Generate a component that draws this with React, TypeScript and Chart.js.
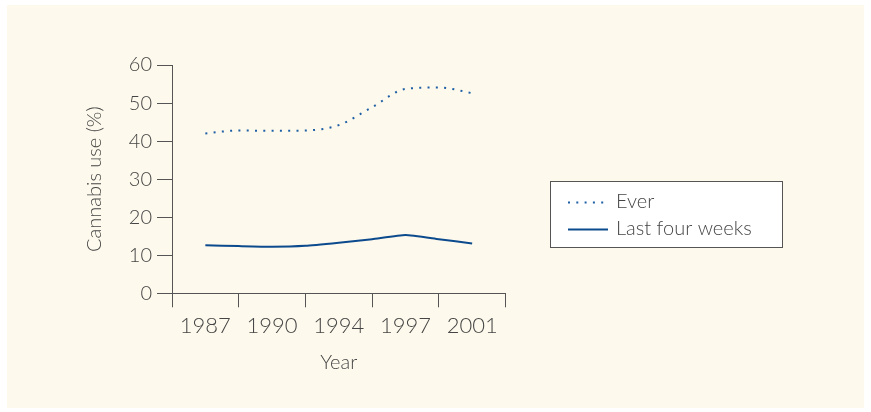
import React, { useEffect, useRef } from "react";
import { Chart, registerables } from "chart.js";

Chart.register(...registerables);

const yearLabels = ["1987", "1990", "1994", "1997", "2001"];
// positions in category units (half steps between labelled years)
const positions = [0, 0.5, 1, 1.5, 2, 2.5, 3, 3.5, 4];
const everValues = [42.0, 42.8, 42.7, 42.8, 44.2, 48.9, 53.7, 54.1, 52.6];
const lastFourWeeksValues = [12.6, 12.4, 12.25, 12.5, 13.3, 14.2, 15.3, 14.2, 13.1];
const seriesNames = ["Ever", "Last four weeks"];
const yTitle = "Cannabis use (%)";
const xTitle = "Year";

const FONT = "Lato";
const TEXT = "#454545";
const AXIS = "#555555";
const CREAM = "#fdf9ec";
const DOT_BLUE = "#1f5fa5";
const LINE_BLUE = "#0c4a8e";

const framePlugin = {
  id: "frame",
  beforeDraw(chart: any) {
    const { ctx, width, height } = chart;
    ctx.save();
    ctx.fillStyle = "#ffffff";
    ctx.fillRect(0, 0, width, height);
    ctx.fillStyle = CREAM;
    ctx.fillRect(7, 5, width - 14, height - 9);
    ctx.restore();
  },
};

const legendPlugin = {
  id: "boxLegend",
  afterDraw(chart: any) {
    const { ctx } = chart;
    ctx.save();
    const bx = 550.5, by = 181.5, bw = 232, bh = 66;
    ctx.fillStyle = "#ffffff";
    ctx.fillRect(bx, by, bw, bh);
    ctx.strokeStyle = AXIS;
    ctx.lineWidth = 1;
    ctx.strokeRect(bx, by, bw, bh);

    const ds = chart.data.datasets;
    const rows = [202.5, 229.5];
    ds.forEach((d: any, i: number) => {
      ctx.beginPath();
      ctx.strokeStyle = d.borderColor;
      ctx.lineWidth = d.borderWidth;
      ctx.setLineDash(d.borderDash || []);
      ctx.moveTo(568, rows[i]);
      ctx.lineTo(i === 0 ? 606 : 608, rows[i]);
      ctx.stroke();
      ctx.setLineDash([]);
      ctx.fillStyle = TEXT;
      ctx.font = `300 20px ${FONT}`;
      ctx.textBaseline = "middle";
      ctx.textAlign = "left";
      ctx.fillText(d.label, 616, rows[i] - 1);
    });
    ctx.restore();
  },
};

export default function App() {
  const ref = useRef<HTMLCanvasElement | null>(null);
  useEffect(() => {
    if (!ref.current) return;
    const chart = new Chart(ref.current, {
      type: "line",
      data: {
        labels: yearLabels,
        datasets: [
          {
            label: seriesNames[0],
            data: positions.map((x, i) => ({ x, y: everValues[i] })),
            xAxisID: "xl",
            borderColor: DOT_BLUE,
            borderWidth: 2,
            borderDash: [2, 6.3],
            cubicInterpolationMode: "monotone",
            tension: 0.4,
            pointRadius: 0,
            fill: false,
          },
          {
            label: seriesNames[1],
            data: positions.map((x, i) => ({ x, y: lastFourWeeksValues[i] })),
            xAxisID: "xl",
            borderColor: LINE_BLUE,
            borderWidth: 2,
            tension: 0.15,
            pointRadius: 0,
            fill: false,
          },
        ],
      },
      options: {
        responsive: false,
        animation: false,
        layout: { padding: { left: 0, top: 65, right: 365.5, bottom: 0 } },
        plugins: { legend: { display: false }, tooltip: { enabled: false } },
        scales: {
          xl: {
            type: "linear",
            display: false,
            min: -0.5,
            max: 4.5,
          },
          x: {
            type: "category",
            labels: yearLabels,
            offset: true,
            position: "bottom",
            afterFit: (s: any) => {
              s.height = 118.7;
            },
            border: { display: true, color: AXIS, width: 1 },
            grid: {
              offset: true,
              drawOnChartArea: false,
              drawTicks: true,
              tickLength: 14,
              color: AXIS,
            },
            ticks: {
              color: TEXT,
              font: { family: FONT, size: 22, weight: "300" },
              padding: 5,
              maxRotation: 0,
            },
            title: {
              display: true,
              text: xTitle,
              color: TEXT,
              font: { family: FONT, size: 20, weight: "300" },
              padding: { top: 0, bottom: 37 },
            },
          },
          y: {
            type: "linear",
            min: 0,
            max: 60,
            afterFit: (s: any) => {
              s.width = 172;
            },
            border: { display: true, color: AXIS, width: 1 },
            grid: {
              drawOnChartArea: false,
              drawTicks: true,
              tickLength: 15,
              color: AXIS,
            },
            ticks: {
              stepSize: 10,
              color: TEXT,
              font: { family: FONT, size: 20, weight: "300" },
              padding: 5,
            },
            title: {
              display: true,
              text: yTitle,
              color: TEXT,
              font: { family: FONT, size: 20, weight: "300" },
              padding: { top: 83, bottom: 0 },
            },
          },
        },
      },
      plugins: [framePlugin, legendPlugin],
    });
    return () => chart.destroy();
  }, []);
  return (
    <div style={{ position: "absolute", left: 0, top: 0, width: 871, height: 412 }}>
      <canvas ref={ref} width={871} height={412} />
    </div>
  );
}
